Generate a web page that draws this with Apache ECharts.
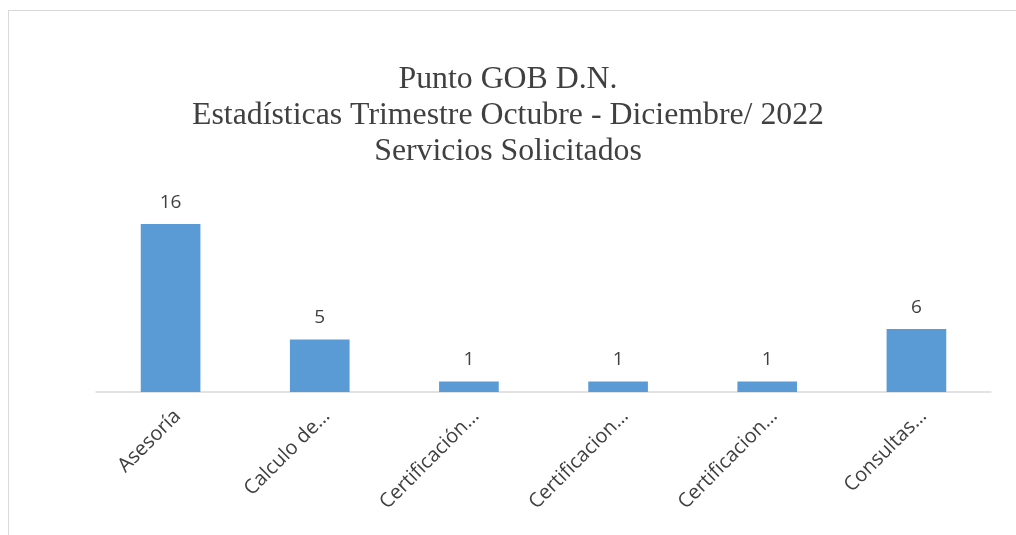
<!DOCTYPE html>
<html>
<head>
<meta charset="utf-8">
<script src="https://cdn.jsdelivr.net/npm/echarts@6/dist/echarts.min.js"></script>
<style>
    html, body { margin: 0; padding: 0; background: #fff; overflow: hidden; }
    #frame { position: absolute; left: 8px; top: 10px; width: 1100px; height: 600px; border: 1px solid #d9d9d9; }
    #chart { position: absolute; left: 0; top: 0; width: 1016px; height: 535px; }
</style>
</head>
<body>
<div id="frame"></div>
<div id="chart"></div>
<script>
var categories = ["Asesoría", "Calculo de…", "Certificación…", "Certificacion…", "Certificacion…", "Consultas…"];
var values = [16, 5, 1, 1, 1, 6];
var titleLines = ["Punto GOB D.N.", "Estadísticas Trimestre Octubre - Diciembre/ 2022", "Servicios Solicitados"];

var chart = echarts.init(document.getElementById("chart"));
chart.setOption({
    animation: false,
    title: {
        text: titleLines.join("\n"),
        left: "center",
        top: 57,
        textStyle: {
            fontFamily: "Liberation Serif",
            fontWeight: "normal",
            fontSize: 31.8,
            lineHeight: 36,
            color: "#404040"
        }
    },
    grid: { left: 96, right: 25, top: 203, bottom: 143 },
    xAxis: {
        type: "category",
        data: categories,
        axisLine: { lineStyle: { color: "#d9d9d9", width: 1.5 } },
        axisTick: { show: false },
        axisLabel: {
            rotate: 45,
            interval: 0,
            margin: 14,
            verticalAlign: "top",
            fontFamily: "Open Sans",
            fontSize: 20,
            color: "#404040"
        }
    },
    yAxis: {
        type: "value",
        min: 0,
        max: 18,
        show: false
    },
    series: [{
        type: "bar",
        data: values,
        barWidth: "40%",
        itemStyle: { color: "#5b9bd5" },
        label: {
            show: true,
            position: "top",
            distance: 12,
            fontFamily: "Open Sans",
            fontSize: 19,
            color: "#404040"
        }
    }]
});
</script>
</body>
</html>
